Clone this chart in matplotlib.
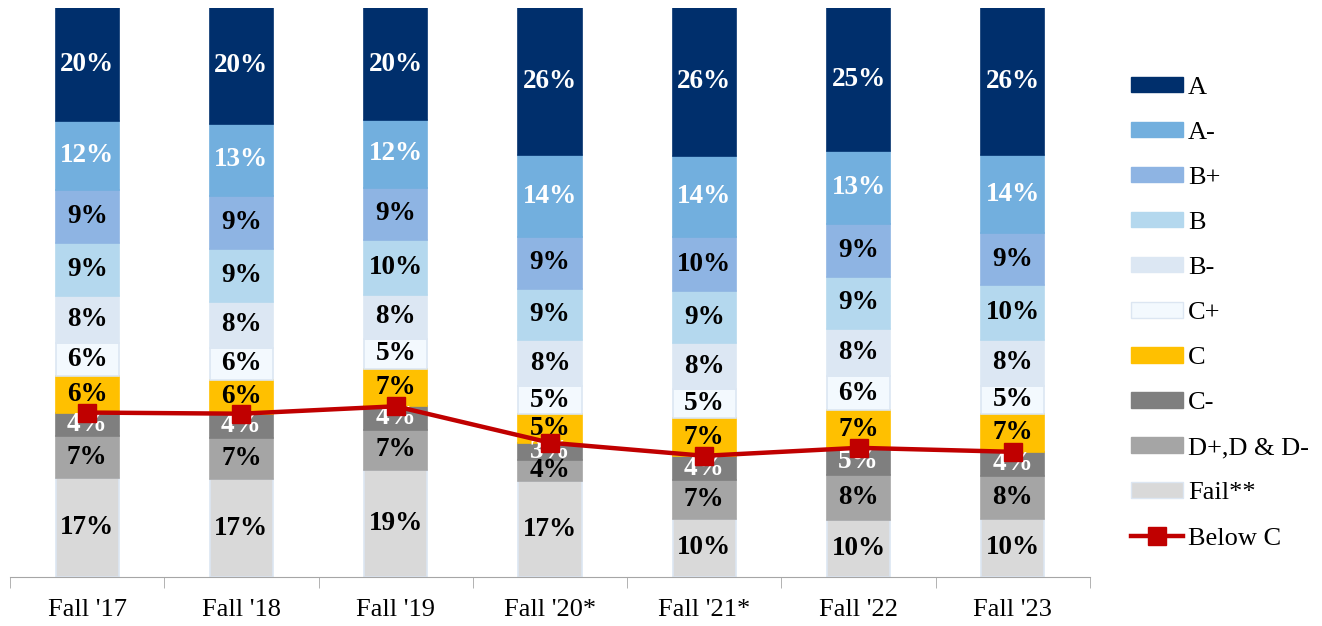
import numpy as np
import matplotlib
matplotlib.use("Agg")
import matplotlib.pyplot as plt
from matplotlib.patches import Patch
from matplotlib.lines import Line2D

plt.rcParams['font.family'] = ['Liberation Serif', 'DejaVu Serif']

terms = ["Fall '17", "Fall '18", "Fall '19", "Fall '20*", "Fall '21*", "Fall '22", "Fall '23"]

# grade shares (%), bottom of stack first
fail   = [17.4, 17.2, 18.8, 16.8, 10.2, 10.1, 10.2]
d_all  = [7.3, 7.3, 7.1, 3.8, 6.8, 7.9, 7.6]
c_min  = [4.2, 4.2, 4.1, 3.0, 4.3, 4.7, 4.2]
c_mid  = [6.4, 5.9, 6.6, 5.0, 6.6, 6.6, 6.7]
c_plus = [5.8, 5.7, 5.3, 5.0, 5.1, 6.0, 4.9]
b_min  = [8.2, 8.1, 7.7, 8.0, 8.1, 8.3, 8.1]
b_mid  = [9.4, 9.3, 9.6, 9.0, 9.1, 9.2, 9.6]
b_plus = [9.3, 9.2, 9.2, 9.2, 9.6, 9.2, 9.1]
a_min  = [12.2, 12.8, 11.9, 14.3, 14.2, 12.9, 13.8]
a_top  = [19.8, 20.3, 19.7, 25.9, 26.0, 25.1, 25.8]

below_c = [28.9, 28.7, 30.0, 23.6, 21.3, 22.7, 22.0]

series = [
    ("Fail**", fail, "#D9D9D9", "black"),
    ("D+,D & D-", d_all, "#A5A5A5", "black"),
    ("C-", c_min, "#7F7F7F", "white"),
    ("C", c_mid, "#FFC000", "black"),
    ("C+", c_plus, "#F3F9FE", "black"),
    ("B-", b_min, "#DCE7F3", "black"),
    ("B", b_mid, "#B4D8EE", "black"),
    ("B+", b_plus, "#8EB4E3", "black"),
    ("A-", a_min, "#72AFDE", "white"),
    ("A", a_top, "#002F6C", "white"),
]

fig = plt.figure(figsize=(13.22, 6.26), dpi=100)
ax = fig.add_axes([10/1322, 1 - 577/626, 1080/1322, 569/626])

x = np.arange(len(terms))
bottom = np.zeros(len(terms))
handles = []
for name, vals, col, tcol in series:
    vals = np.array(vals)
    edge = "#DCE6F2" if name in ("C+", "Fail**") else col
    ax.bar(x, vals, 0.41, bottom=bottom, color=col, edgecolor=edge, linewidth=1.2)
    for xi, b, v in zip(x, bottom, vals):
        ax.text(xi, b + v / 2, "%d%%" % round(v), ha='center', va='center',
                color=tcol, fontsize=19.5, fontweight='bold')
    handles.append(Patch(facecolor=col, edgecolor=edge, label=name))
    bottom += vals

ax.plot(x, below_c, color="#C00000", lw=3.2, marker='s', ms=13, zorder=5)
handles = handles[::-1]
handles.append(Line2D([0], [0], color="#C00000", lw=3.2, marker='s', ms=13, label="Below C"))

ax.set_xlim(-0.5, 6.5)
ax.set_ylim(0, 100)
ax.set_yticks([])
for s in ['top', 'right', 'left']:
    ax.spines[s].set_visible(False)
ax.spines['bottom'].set_color('#A6A6A6')
ax.set_xticks(x)
ax.set_xticklabels(terms, fontsize=19)
ax.tick_params(axis='x', which='major', length=0, pad=16)
ax.set_xticks(np.arange(-0.5, 7, 1), minor=True)
ax.tick_params(axis='x', which='minor', length=8, color='#A6A6A6')

fig.legend(handles=handles, loc='upper left', bbox_to_anchor=(1120/1322, 1 - 66/626),
           borderaxespad=0, frameon=False, fontsize=19, handlelength=1.97,
           handleheight=0.53, labelspacing=0.87, handletextpad=0.2)

fig.savefig("out.png", dpi=100)
